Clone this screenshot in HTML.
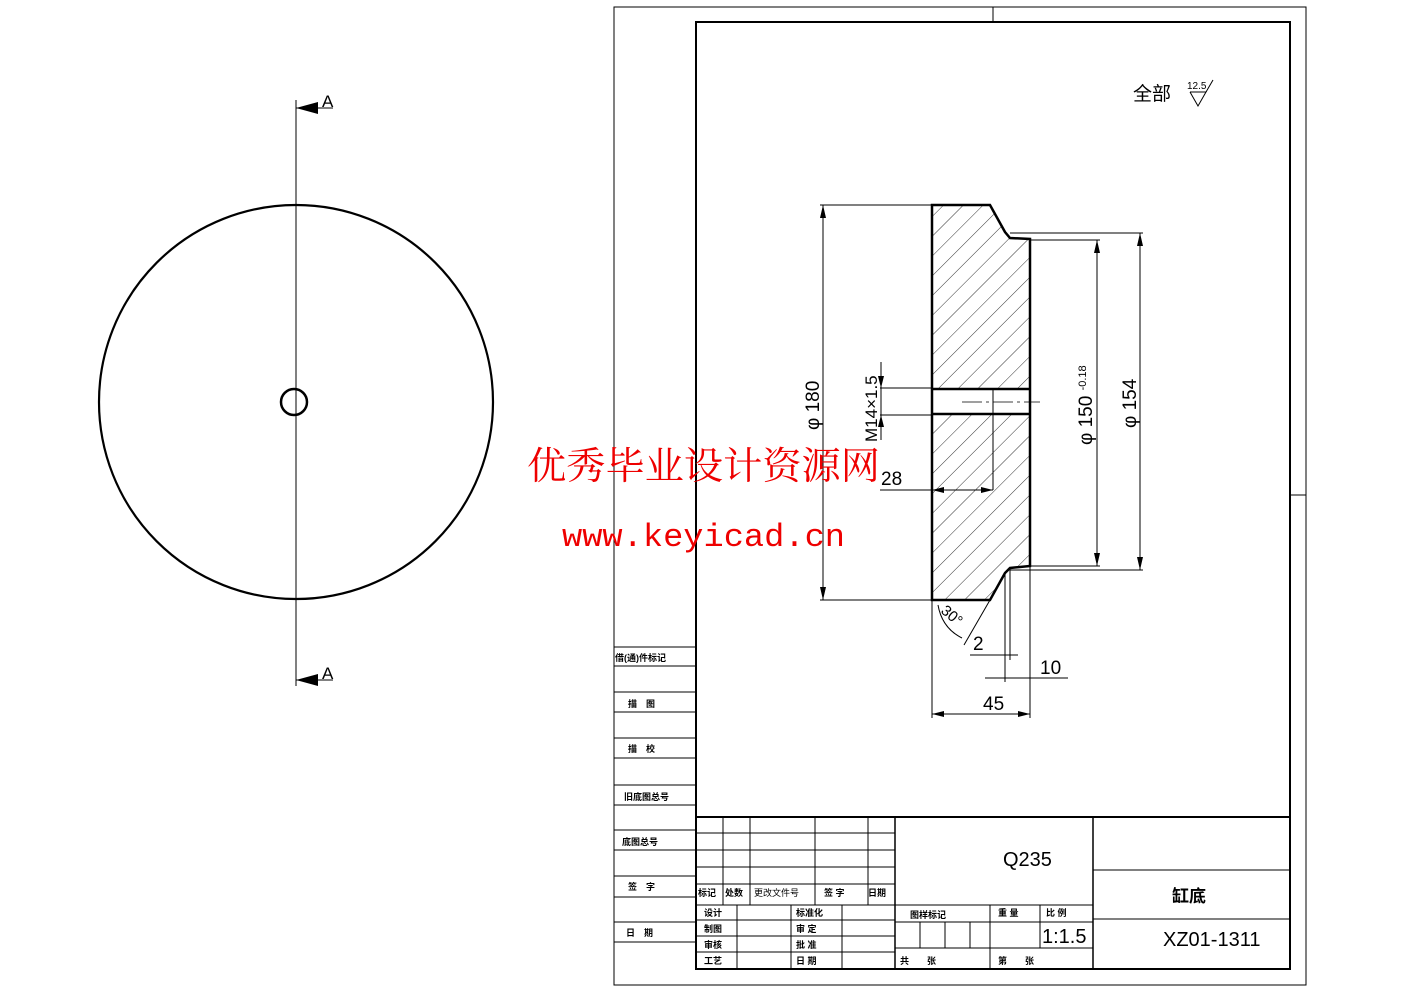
<!DOCTYPE html>
<html><head><meta charset="utf-8"><style>
html,body{margin:0;padding:0;background:#fff;width:1403px;height:992px;overflow:hidden}
svg text{font-family:"Liberation Sans","Noto Sans CJK SC",sans-serif}
</style></head><body>
<svg width="1403" height="992" viewBox="0 0 1403 992" xmlns="http://www.w3.org/2000/svg">
<defs>
<pattern id="h" patternUnits="userSpaceOnUse" width="14" height="14" patternTransform="rotate(45)">
<line x1="0" y1="0" x2="0" y2="14" stroke="#000" stroke-width="0.8"/>
</pattern>
<clipPath id="c1"><polygon points="932,205 990,205 1005,232 1010,238 1030,239 1030,566 1010,568 1005,573 990,600 932,600"/></clipPath>
</defs>
<g stroke="#000" fill="none">
<circle cx="296" cy="402" r="197" stroke-width="2.2"/>
<circle cx="294" cy="402" r="13" stroke-width="2.5"/>
<line x1="296" y1="100" x2="296" y2="686" stroke-width="1"/>
<line x1="296" y1="108" x2="333" y2="108"/>
<line x1="296" y1="680" x2="333" y2="680"/>
</g>
<polygon points="296,108 318,102 318,114" fill="#000"/>
<polygon points="296,680 318,674 318,686" fill="#000"/>
<text x="322" y="107" font-size="17" fill="#000">A</text>
<text x="322" y="679" font-size="17" fill="#000">A</text>

<g stroke="#000" fill="none">
<rect x="614" y="7" width="692" height="978" stroke-width="1"/>
<rect x="696" y="22" width="594" height="947" stroke-width="2"/>
<line x1="993" y1="7" x2="993" y2="22"/>
<line x1="1290" y1="495" x2="1306" y2="495"/>
<g stroke-width="1">
<line x1="614" y1="647" x2="696" y2="647"/><line x1="614" y1="666" x2="696" y2="666"/>
<line x1="614" y1="692" x2="696" y2="692"/><line x1="614" y1="712" x2="696" y2="712"/>
<line x1="614" y1="738" x2="696" y2="738"/><line x1="614" y1="758" x2="696" y2="758"/>
<line x1="614" y1="785" x2="696" y2="785"/><line x1="614" y1="805" x2="696" y2="805"/>
<line x1="614" y1="830" x2="696" y2="830"/><line x1="614" y1="850" x2="696" y2="850"/>
<line x1="614" y1="876" x2="696" y2="876"/><line x1="614" y1="897" x2="696" y2="897"/>
<line x1="614" y1="922" x2="696" y2="922"/><line x1="614" y1="942" x2="696" y2="942"/>
</g>
<line x1="696" y1="817" x2="1290" y2="817" stroke-width="2"/>
<line x1="895" y1="817" x2="895" y2="969" stroke-width="1.5"/>
<line x1="1093" y1="817" x2="1093" y2="969" stroke-width="1.5"/>
<g stroke-width="1">
<line x1="696" y1="833" x2="895" y2="833"/><line x1="696" y1="850" x2="895" y2="850"/>
<line x1="696" y1="867" x2="895" y2="867"/><line x1="696" y1="884" x2="895" y2="884"/>
<line x1="696" y1="905" x2="895" y2="905"/><line x1="696" y1="920" x2="895" y2="920"/>
<line x1="696" y1="936" x2="895" y2="936"/><line x1="696" y1="952" x2="895" y2="952"/>
<line x1="723" y1="817" x2="723" y2="905"/><line x1="750" y1="817" x2="750" y2="905"/>
<line x1="815" y1="817" x2="815" y2="905"/><line x1="868" y1="817" x2="868" y2="905"/>
<line x1="737" y1="905" x2="737" y2="969"/><line x1="791" y1="905" x2="791" y2="969"/>
<line x1="842" y1="905" x2="842" y2="969"/>
<line x1="895" y1="905" x2="1093" y2="905"/><line x1="895" y1="922" x2="1093" y2="922"/>
<line x1="895" y1="948" x2="1093" y2="948"/>
<line x1="990" y1="905" x2="990" y2="969"/><line x1="1040" y1="905" x2="1040" y2="948"/>
<line x1="920" y1="922" x2="920" y2="948"/><line x1="945" y1="922" x2="945" y2="948"/><line x1="970" y1="922" x2="970" y2="948"/>
<line x1="1093" y1="870" x2="1290" y2="870"/><line x1="1093" y1="919" x2="1290" y2="919"/>
</g>
</g>
<g font-size="9" fill="#000" font-weight="bold">
<text x="615" y="661">借(通)件标记</text>
<text x="628" y="707">描　图</text>
<text x="628" y="752">描　校</text>
<text x="624" y="800">旧底图总号</text>
<text x="622" y="845">底图总号</text>
<text x="628" y="890">签　字</text>
<text x="626" y="936">日　期</text>
<text x="698" y="896">标记</text><text x="725" y="896">处数</text>
<text x="754" y="896" font-weight="normal">更改文件号</text>
<text x="824" y="896">签 字</text><text x="868" y="896">日期</text>
<text x="704" y="916">设计</text><text x="704" y="932">制图</text>
<text x="704" y="948">审核</text><text x="704" y="964">工艺</text>
<text x="796" y="916">标准化</text><text x="796" y="932">审 定</text>
<text x="796" y="948">批 准</text><text x="796" y="964">日 期</text>
<text x="910" y="918">图样标记</text><text x="998" y="916">重 量</text>
<text x="1046" y="916">比 例</text>
<text x="900" y="964">共　　张</text><text x="998" y="964">第　　张</text>
</g>
<text x="1003" y="866" font-size="20" fill="#000">Q235</text>
<text x="1042" y="943" font-size="20" fill="#000">1:1.5</text>
<text x="1172" y="902" font-size="17" fill="#000" font-weight="bold">缸底</text>
<text x="1163" y="946" font-size="20" fill="#000">XZ01-1311</text>
<text x="1133" y="100" font-size="19" fill="#000">全部</text>
<text x="1187" y="89" font-size="10" fill="#000">12.5</text>
<g stroke="#000" fill="none" stroke-width="1">
<polyline points="1190,92 1198,106 1206,92 1190,92"/><line x1="1206" y1="92" x2="1213" y2="80"/>
</g>

<rect x="930" y="200" width="110" height="405" fill="url(#h)" clip-path="url(#c1)"/>
<rect x="933" y="389" width="97" height="25" fill="#fff"/>
<g stroke="#000" fill="none">
<polygon points="932,205 990,205 1005,232 1010,238 1030,239 1030,566 1010,568 1005,573 990,600 932,600" stroke-width="2.5"/>
<line x1="932" y1="389" x2="1030" y2="389" stroke-width="2.5"/>
<line x1="932" y1="414" x2="1030" y2="414" stroke-width="2.5"/>
<line x1="993" y1="389" x2="993" y2="490" stroke-width="1"/>
<line x1="962" y1="402" x2="1040" y2="402" stroke-width="0.8" stroke-dasharray="20,4,3,4"/>
<g stroke-width="1">
<line x1="820" y1="205" x2="932" y2="205"/><line x1="820" y1="600" x2="932" y2="600"/>
<line x1="823" y1="205" x2="823" y2="600"/>
<line x1="1030" y1="240" x2="1100" y2="240"/><line x1="1030" y1="566" x2="1100" y2="566"/>
<line x1="1097" y1="240" x2="1097" y2="566"/>
<line x1="1010" y1="233" x2="1143" y2="233"/><line x1="1010" y1="570" x2="1143" y2="570"/>
<line x1="1140" y1="233" x2="1140" y2="570"/>
<line x1="880" y1="388" x2="932" y2="388"/><line x1="880" y1="415" x2="932" y2="415"/>
<line x1="881" y1="362" x2="881" y2="440"/>
<line x1="880" y1="490" x2="993" y2="490"/>
<line x1="932" y1="600" x2="932" y2="718"/><line x1="1030" y1="566" x2="1030" y2="718"/>
<line x1="932" y1="714" x2="1030" y2="714"/>
<line x1="1005" y1="573" x2="1005" y2="682"/><line x1="1010" y1="568" x2="1010" y2="660"/>
<line x1="970" y1="655" x2="1018" y2="655"/>
<line x1="985" y1="678" x2="1068" y2="678"/>
<line x1="990" y1="600" x2="964" y2="645"/>
<path d="M 938 605 Q 942 628 962 638"/>
</g>
</g>
<g fill="#000">
<polygon points="823,205 820,218 826,218"/><polygon points="823,600 820,587 826,587"/>
<polygon points="1097,240 1094,253 1100,253"/><polygon points="1097,566 1094,553 1100,553"/>
<polygon points="1140,233 1137,246 1143,246"/><polygon points="1140,570 1137,557 1143,557"/>
<polygon points="881,388 878,376 884,376"/><polygon points="881,415 878,427 884,427"/>
<polygon points="932,490 944,487 944,493"/><polygon points="993,490 981,487 981,493"/>
<polygon points="932,714 944,711 944,717"/><polygon points="1030,714 1018,711 1018,717"/>
</g>
<g font-size="19" fill="#000">
<text transform="translate(819,430) rotate(-90)">φ 180</text>
<text transform="translate(1092,445) rotate(-90)">φ 150 <tspan font-size="11" dy="-6">-0.18</tspan></text>
<text transform="translate(1136,428) rotate(-90)">φ 154</text>
<text transform="translate(877,442) rotate(-90)" font-size="17">M14×1.5</text>
<text x="881" y="485">28</text>
<text x="983" y="710">45</text>
<text x="1040" y="674">10</text>
<text x="973" y="650">2</text>
<text transform="translate(940,612) rotate(40)" font-size="15">30°</text>
</g>

<text x="527" y="479" font-size="38" fill="#e00" textLength="353" lengthAdjust="spacingAndGlyphs" style="font-family:'Noto Serif CJK SC','Liberation Serif',serif">优秀毕业设计资源网</text>
<text x="562" y="546" font-size="32" fill="#e00" textLength="283" lengthAdjust="spacingAndGlyphs" style="font-family:'Liberation Mono',monospace">www.keyicad.cn</text>
</svg>
</body></html>
